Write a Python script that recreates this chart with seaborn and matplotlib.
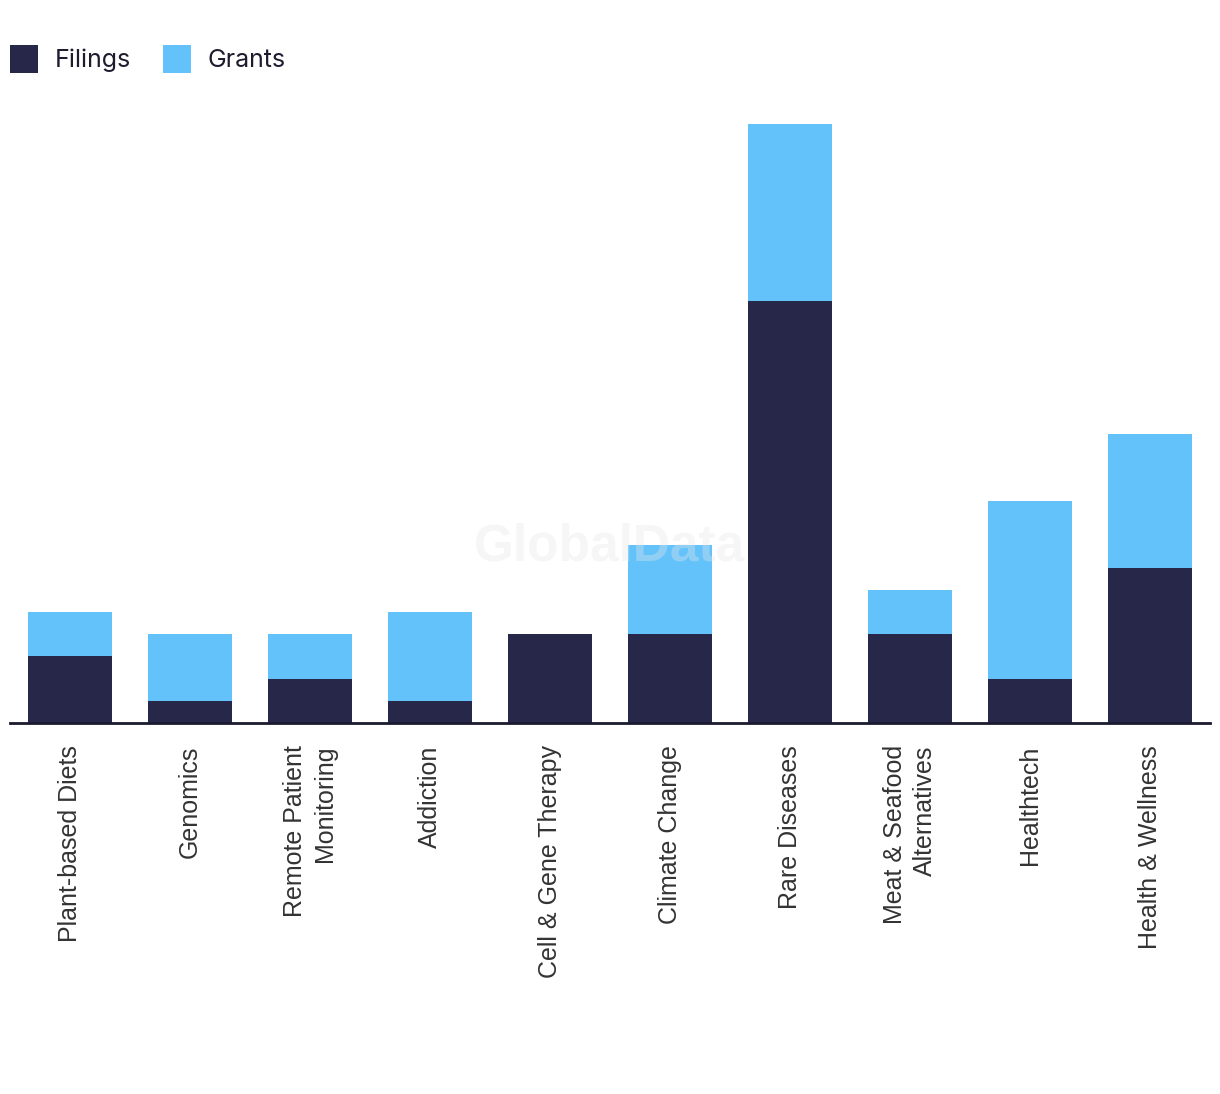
import matplotlib
matplotlib.use("Agg")
import matplotlib.pyplot as plt
import seaborn as sns
import pandas as pd
from matplotlib.patches import Patch

categories = ["Plant-based Diets", "Genomics", "Remote Patient\nMonitoring", "Addiction",
              "Cell & Gene Therapy", "Climate Change", "Rare Diseases",
              "Meat & Seafood\nAlternatives", "Healthtech", "Health & Wellness"]
filings = [3, 1, 2, 1, 4, 4, 19, 4, 2, 7]
grants = [2, 3, 2, 4, 0, 4, 8, 2, 8, 6]

DARK = "#27274A"
LIGHT = "#63C2FA"

sns.set_theme(style="white")
plt.rcParams["font.family"] = ["Liberation Sans", "DejaVu Sans"]

df = pd.DataFrame({"category": categories,
                   "Filings": filings,
                   "Total": [f + g for f, g in zip(filings, grants)]})

fig = plt.figure(figsize=(12.2, 10.94), dpi=100)
ax = fig.add_axes([10 / 1220, 371 / 1094, 1200 / 1220, 621.6 / 1094])

sns.barplot(data=df, x="category", y="Total", color=LIGHT, width=0.7,
            saturation=1, ax=ax, order=categories)
sns.barplot(data=df, x="category", y="Filings", color=DARK, width=0.7,
            saturation=1, ax=ax, order=categories)
for p in ax.patches:
    p.set_linewidth(0)

ax.set_xlim(-0.5, len(categories) - 0.5)
ax.set_ylim(0, 28)
ax.set_xlabel("")
ax.set_ylabel("")
ax.set_yticks([])
for s in ["top", "right", "left"]:
    ax.spines[s].set_visible(False)
ax.spines["bottom"].set_color("#1a1a2e")
ax.spines["bottom"].set_linewidth(2)

ax.set_xticks(range(len(categories)))
ax.set_xticklabels(categories, rotation=90, ha="center", va="top",
                   multialignment="right", fontsize=18, color="#333333",
                   linespacing=1.3)
ax.tick_params(axis="x", length=0, pad=16)

# watermark
fig.text(610 / 1220, 1 - 547 / 1094, "GlobalData", ha="center", va="center",
         fontsize=37, fontweight="bold", color="#e6e6e6", alpha=0.35,
         family=["Liberation Sans", "DejaVu Sans"], zorder=10)

handles = [Patch(facecolor=DARK, edgecolor="none", label="Filings"),
           Patch(facecolor=LIGHT, edgecolor="none", label="Grants")]
leg = fig.legend(handles=handles, loc="upper left",
                 bbox_to_anchor=(0 / 1220, 1 - 35 / 1094),
                 ncol=2, frameon=False, handlelength=1.12, handleheight=1.35,
                 handletextpad=0.68, columnspacing=1.25, borderaxespad=0,
                 prop={"family": ["Inter", "DejaVu Sans"], "size": 18})
for t in leg.get_texts():
    t.set_color("#1c1c2e")

fig.savefig("out.png", dpi=100, facecolor="white")
